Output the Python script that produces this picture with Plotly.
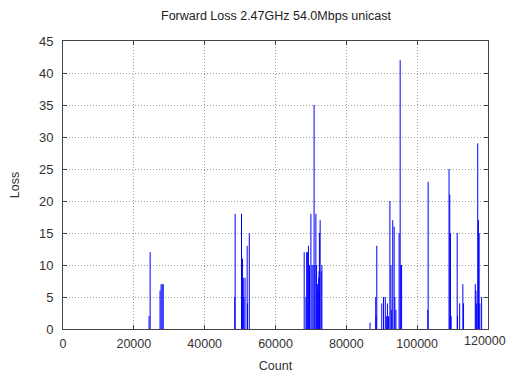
import plotly.graph_objects as go

# Loss events recorded against the packet count
count = [
    24300, 24600,
    27400, 27700, 28000, 28300,
    48500, 48600, 50400, 50700, 50900, 51100, 51400, 52000, 52100, 52600,
    68100, 68600, 68800, 69000, 69300, 69600, 70000, 70300, 70600, 70900,
    71100, 71400, 71600, 71900, 72000, 72200, 72300, 72400, 72600, 72900, 73100,
    86700, 88300, 88400, 88600, 90000, 90500, 91000, 91300, 91600, 91900,
    92300, 92600, 92800, 93100, 93500, 93700, 94000, 94900, 95200, 95400, 95600,
    103000, 103100,
    109000, 109200, 109400, 109600, 111300, 111400, 112000, 112900, 113100,
    116400, 116600, 116800, 117100, 117300, 117500, 117700, 118200,
]
loss = [
    2, 12,
    6, 7, 7, 7,
    5, 18, 18, 11, 8, 5, 8, 13, 4, 15,
    12, 5, 12, 12, 13, 10, 18, 10, 10, 35,
    10, 18, 10, 7, 6, 8, 9, 15, 17, 9, 10,
    1, 5, 2, 13, 4, 5, 5, 2, 4, 2,
    20, 10, 3, 17, 16, 5, 3, 15, 42, 10, 10,
    3, 23,
    25, 21, 15, 2, 15, 2, 4, 7, 4,
    7, 6, 4, 29, 17, 15, 4, 5,
]

x_ticks = [0, 20000, 40000, 60000, 80000, 100000, 120000]
y_ticks = [0, 5, 10, 15, 20, 25, 30, 35, 40, 45]

# Impulse path: one vertical stroke from zero up to each event's loss
xs, ys = [], []
for c, v in zip(count, loss):
    xs += [c, c, None]
    ys += [0, v, None]

fig = go.Figure(go.Scatter(
    x=xs, y=ys, mode="lines",
    line=dict(color="#0000ff", width=1),
    hoverinfo="skip", showlegend=False, connectgaps=False,
))

font_family = "Liberation Sans, Arial, sans-serif"
tick_font = dict(family=font_family, size=12.5, color="#333")

# the last x label is placed as a right-aligned note so it stays on the page
x_labels = [str(t) for t in x_ticks]
x_labels[-1] = ""

axis_common = dict(
    showline=True, linecolor="#444", linewidth=1, mirror="ticks",
    ticks="inside", ticklen=4, tickcolor="#444",
    showgrid=True, gridcolor="#a0a0a0", griddash="1px,2px", gridwidth=1,
    zeroline=False, ticklabeloverflow="allow", automargin=False,
    title_font=dict(family=font_family, size=12.5, color="#333"),
)

fig.update_layout(
    width=508, height=376,
    margin=dict(l=63, r=20, t=41, b=47),
    paper_bgcolor="white", plot_bgcolor="white",
    xaxis=dict(range=[0, 120000], tickvals=x_ticks, ticktext=x_labels,
               ticklabelstandoff=3, tickfont=tick_font,
               title=dict(text="Count", standoff=11), **axis_common),
    yaxis=dict(range=[0, 45], tickvals=y_ticks, ticklabelstandoff=6,
               tickfont=dict(family=font_family, size=13, color="#333"),
               title=dict(text="Loss", standoff=16), **axis_common),
    annotations=[
        dict(
            text="Forward Loss 2.47GHz 54.0Mbps unicast",
            xref="paper", yref="paper", x=0.5, y=1, yshift=16,
            xanchor="center", yanchor="bottom", showarrow=False,
            font=dict(family=font_family, size=12.5, color="#222"),
        ),
        dict(
            text=str(x_ticks[-1]),
            xref="x", yref="paper", x=x_ticks[-1], y=0,
            xanchor="right", yanchor="top", xshift=19, yshift=-4,
            showarrow=False, borderpad=0, font=tick_font,
        ),
    ],
)

fig.write_html("out.html")
